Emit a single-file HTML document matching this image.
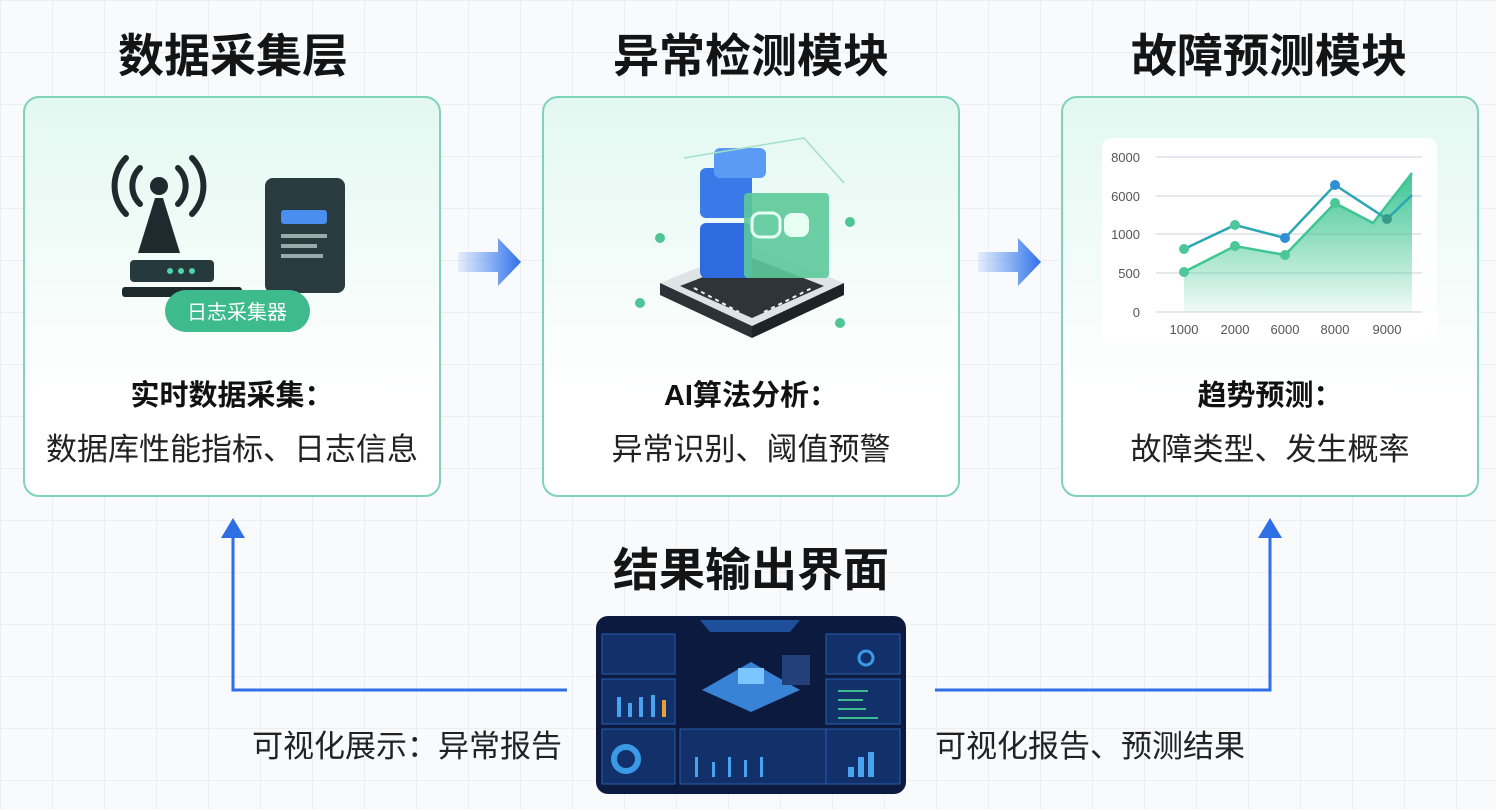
<!DOCTYPE html>
<html><head><meta charset="utf-8"><style>
body{margin:0;width:1496px;height:810px;overflow:hidden;font-family:"Liberation Sans","Noto Sans CJK SC",sans-serif;
background-color:#f8fafb;background-image:linear-gradient(#eceff2 1px,transparent 1px),linear-gradient(90deg,#eceff2 1px,transparent 1px);background-size:52px 52px;position:relative}
.t{position:absolute;font-weight:700;font-size:46px;color:#141414;text-align:center;width:500px}
.card{position:absolute;top:96px;width:418px;height:401px;border:2px solid #7fd3b8;border-radius:16px;background:linear-gradient(180deg,#e3f8f1 0%,#f4fcf9 45%,#fff 75%);box-sizing:border-box}
.l1{position:absolute;width:100%;text-align:center;top:274px;font-size:29px;font-weight:700;color:#111}
.l2{position:absolute;width:100%;text-align:center;top:326px;font-size:31px;color:#222}
.lbl{position:absolute;font-size:31px;color:#222;top:721px}
</style></head><body>
<div class="t" style="left:-17px;top:20px">数据采集层</div>
<div class="t" style="left:501px;top:20px">异常检测模块</div>
<div class="t" style="left:1019px;top:20px">故障预测模块</div>
<div class="t" style="left:501px;top:534px">结果输出界面</div>

<div class="card" style="left:23px">
 <svg width="416" height="260" style="position:absolute;left:0;top:0">
  <g fill="none" stroke="#1d2b2e" stroke-width="6" stroke-linecap="round">
   <path d="M115 70 a25 25 0 0 0 0 36"/><path d="M101 60 a40 40 0 0 0 0 56"/>
   <path d="M153 70 a25 25 0 0 1 0 36"/><path d="M167 60 a40 40 0 0 1 0 56"/>
  </g>
  <circle cx="134" cy="88" r="9" fill="#1d2b2e"/>
  <path d="M130 100 L138 100 L155 155 L113 155Z" fill="#1d2b2e"/>
  <rect x="105" y="162" width="84" height="22" rx="4" fill="#26393c"/>
  <g fill="#4fd6a8"><circle cx="145" cy="173" r="3"/><circle cx="156" cy="173" r="3"/><circle cx="167" cy="173" r="3"/></g>
  <rect x="97" y="189" width="120" height="10" rx="3" fill="#1d2b2e"/>
  <rect x="240" y="80" width="80" height="115" rx="8" fill="#2a3b3f"/>
  <rect x="256" y="112" width="46" height="14" rx="3" fill="#4a8ff0"/>
  <rect x="256" y="136" width="46" height="4" fill="#9aa"/><rect x="256" y="146" width="36" height="4" fill="#9aa"/>
  <rect x="256" y="156" width="42" height="4" fill="#9aa"/>
  <rect x="140" y="192" width="145" height="42" rx="21" fill="#3dbb8c"/>
  <text x="212" y="221" text-anchor="middle" font-size="20" fill="#fff" font-family="Liberation Sans,Noto Sans CJK SC,sans-serif">日志采集器</text>
 </svg>
 <div class="l1">实时数据采集：</div><div class="l2">数据库性能指标、日志信息</div>
</div>

<div class="card" style="left:542px">
 <svg width="416" height="260" style="position:absolute;left:0;top:0">
  <path d="M208 148 L300 185 L208 228 L116 185Z" fill="#dde3e6"/>
  <path d="M116 185 L208 228 L208 240 L116 197Z" fill="#2b3338"/>
  <path d="M300 185 L208 228 L208 240 L300 197Z" fill="#1d2428"/>
  <path d="M208 160 L280 188 L208 220 L136 188Z" fill="#2d3539"/>
  <path d="M150 190 L195 214" stroke="#eef" stroke-width="2" stroke-dasharray="4 4"/>
  <path d="M220 214 L268 190" stroke="#eef" stroke-width="2" stroke-dasharray="4 4"/>
  <rect x="156" y="70" width="52" height="50" rx="6" fill="#3a7ae8"/>
  <rect x="170" y="50" width="52" height="30" rx="6" fill="#5b9bf5"/>
  <rect x="156" y="125" width="52" height="55" rx="6" fill="#2f6be0"/>
  <rect x="200" y="95" width="85" height="85" rx="4" fill="#5cc99a" opacity=".9"/>
  <rect x="208" y="115" width="28" height="24" rx="8" fill="none" stroke="#e8fff4" stroke-width="3"/>
  <rect x="240" y="115" width="25" height="24" rx="8" fill="#e8fff4"/>
  <path d="M140 60 L260 40 L300 85" fill="none" stroke="#9fe0c7" stroke-width="1.5"/>
  <g fill="#4fc495"><circle cx="116" cy="140" r="5"/><circle cx="306" cy="124" r="5"/><circle cx="96" cy="205" r="5"/><circle cx="296" cy="225" r="5"/></g>
 </svg>
 <div class="l1">AI算法分析：</div><div class="l2">异常识别、阈值预警</div>
</div>

<div class="card" style="left:1061px"><div class="l1">趋势预测：</div><div class="l2">故障类型、发生概率</div></div>

<svg width="1496" height="810" style="position:absolute;left:0;top:0" font-family="Liberation Sans,sans-serif">
 <defs>
  <linearGradient id="ar" x1="0" x2="1"><stop offset="0" stop-color="#3b82f6" stop-opacity=".1"/><stop offset="1" stop-color="#2f6fe6"/></linearGradient>
  <linearGradient id="ga" x1="0" y1="0" x2="0" y2="1"><stop offset="0" stop-color="#3fc594"/><stop offset="1" stop-color="#3fc594" stop-opacity=".08"/></linearGradient>
 </defs>
 <path d="M458 252 H498 V238 L521 262 L498 286 V272 H458Z" fill="url(#ar)"/>
 <path d="M978 252 H1018 V238 L1041 262 L1018 286 V272 H978Z" fill="url(#ar)"/>
 <rect x="1102" y="138" width="335" height="205" rx="10" fill="#fff"/>
 <g stroke="#dde0ea" stroke-width="1.5"><line x1="1156" x2="1422" y1="157" y2="157"/><line x1="1156" x2="1422" y1="196" y2="196"/><line x1="1156" x2="1422" y1="234" y2="234"/><line x1="1156" x2="1422" y1="273" y2="273"/><line x1="1156" x2="1422" y1="312" y2="312"/></g>
 <g font-size="13" fill="#555" text-anchor="end"><text x="1140" y="162">8000</text><text x="1140" y="201">6000</text><text x="1140" y="239">1000</text><text x="1140" y="278">500</text><text x="1140" y="317">0</text></g>
 <g font-size="13" fill="#555" text-anchor="middle"><text x="1184" y="334">1000</text><text x="1235" y="334">2000</text><text x="1285" y="334">6000</text><text x="1335" y="334">8000</text><text x="1387" y="334">9000</text></g>
 <path d="M1184 272 L1235 246 L1285 255 L1335 203 L1373 223 L1412 173 L1412 312 L1184 312Z" fill="url(#ga)"/>
 <path d="M1184 272 L1235 246 L1285 255 L1335 203 L1373 223 L1412 173" fill="none" stroke="#3fc594" stroke-width="2.5"/>
 <path d="M1184 249 L1235 225 L1285 238 L1335 185 L1387 219 L1412 195" fill="none" stroke="#2aa7b0" stroke-width="2.5"/>
 <g fill="#4cc79a"><circle cx="1184" cy="272" r="5"/><circle cx="1235" cy="246" r="5"/><circle cx="1285" cy="255" r="5"/><circle cx="1335" cy="203" r="5"/><circle cx="1184" cy="249" r="5"/><circle cx="1235" cy="225" r="5"/></g>
 <g fill="#2f8fd6"><circle cx="1285" cy="238" r="5"/><circle cx="1335" cy="185" r="5"/><circle cx="1387" cy="219" r="5" fill="#3a9a8a"/></g>

 <path d="M567 690 H233 V532" fill="none" stroke="#2f6fe6" stroke-width="3"/>
 <path d="M221 538 L233 518 L245 538Z" fill="#2f6fe6"/>
 <path d="M935 690 H1270 V532" fill="none" stroke="#2f6fe6" stroke-width="3"/>
 <path d="M1258 538 L1270 518 L1282 538Z" fill="#2f6fe6"/>

 <g>
  <rect x="596" y="616" width="310" height="178" rx="12" fill="#0b1a3e"/>
  <path d="M700 620 H800 L790 632 H710Z" fill="#1e4f9a"/>
  <g fill="#12306a" stroke="#2a5db0" stroke-width="1">
   <rect x="602" y="634" width="73" height="40"/><rect x="602" y="679" width="73" height="45"/><rect x="602" y="729" width="73" height="55"/>
   <rect x="680" y="729" width="152" height="55"/><rect x="826" y="634" width="74" height="40"/><rect x="826" y="679" width="74" height="45"/><rect x="826" y="729" width="74" height="55"/>
  </g>
  <path d="M751 662 L800 690 L751 712 L702 690Z" fill="#3d8fe6" opacity=".9"/>
  <rect x="738" y="668" width="26" height="16" fill="#7cc6ff"/>
  <rect x="782" y="655" width="28" height="30" fill="#22407a"/>
  <circle cx="626" cy="759" r="12" fill="none" stroke="#3a9ae6" stroke-width="6"/>
  <circle cx="866" cy="658" r="7" fill="none" stroke="#3a9ae6" stroke-width="3"/>
  <g fill="#4aa3f0"><rect x="617" y="697" width="4" height="20"/><rect x="628" y="703" width="4" height="14"/><rect x="639" y="697" width="4" height="20"/><rect x="651" y="695" width="4" height="22"/><rect x="695" y="757" width="3" height="20"/><rect x="712" y="762" width="3" height="15"/><rect x="728" y="757" width="3" height="20"/><rect x="744" y="760" width="3" height="17"/><rect x="760" y="757" width="3" height="20"/><rect x="848" y="767" width="6" height="10"/><rect x="858" y="757" width="6" height="20"/><rect x="868" y="752" width="6" height="25"/></g>
  <rect x="662" y="700" width="4" height="17" fill="#e8a030"/>
  <g fill="#3dbb8c"><rect x="838" y="690" width="30" height="2"/><rect x="838" y="699" width="25" height="2"/><rect x="838" y="708" width="28" height="2"/><rect x="838" y="717" width="40" height="2"/></g>
 </g>
</svg>
<div class="lbl" style="left:252px">可视化展示：异常报告</div>
<div class="lbl" style="left:935px">可视化报告、预测结果</div>
</body></html>
